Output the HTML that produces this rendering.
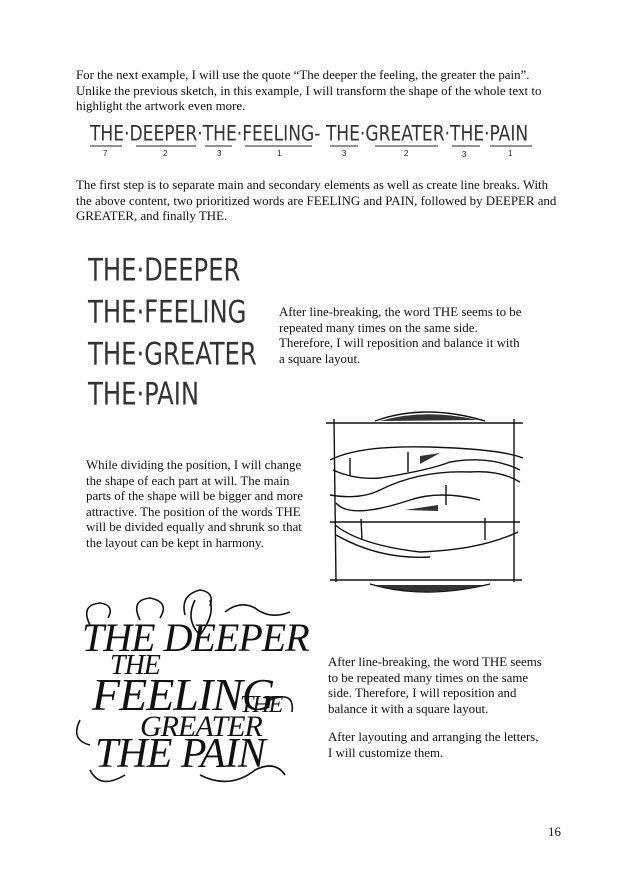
<!DOCTYPE html>
<html><head><meta charset="utf-8"><style>
body{margin:0;width:625px;height:887px;background:#fff;position:relative;overflow:hidden;font-family:"Liberation Serif",serif;color:#111}
.t{position:absolute;font-size:12.9px;line-height:15.5px;white-space:nowrap}
.h{position:absolute;font-family:"DejaVu Sans Condensed","Liberation Sans",sans-serif;color:#333;white-space:nowrap;transform-origin:0 0}
.c{position:absolute;font-family:"Liberation Serif",serif;font-style:italic;color:#111;white-space:nowrap;letter-spacing:-1px}
</style></head><body>
<div class="t" style="left:76px;top:68px">For the next example, I will use the quote “The deeper the feeling, the greater the pain”.<br>Unlike the previous sketch, in this example, I will transform the shape of the whole text to<br>highlight the artwork even more.</div>

<div class="h" style="left:90px;top:122px;font-size:19px;transform:scaleY(1.1)">THE·DEEPER·THE·FEELING- THE·GREATER·THE·PAIN</div>
<svg style="position:absolute;left:0;top:0" width="625" height="887">
<g stroke="#222" stroke-width="1" fill="none">
<line x1="90" y1="146" x2="122" y2="146"/><line x1="136" y1="146" x2="196" y2="146"/>
<line x1="205" y1="146" x2="232" y2="146"/><line x1="245" y1="146" x2="312" y2="146"/>
<line x1="330" y1="146" x2="358" y2="146"/><line x1="375" y1="146" x2="438" y2="146"/>
<line x1="452" y1="146" x2="480" y2="146"/><line x1="490" y1="146" x2="532" y2="146"/>
</g>
<g font-size="8" fill="#222" font-family="Liberation Sans"><text x="103" y="156">7</text><text x="163" y="156">2</text><text x="217" y="156">3</text><text x="277" y="156">1</text><text x="342" y="156">3</text><text x="404" y="156">2</text><text x="462" y="157">3</text><text x="508" y="156">1</text></g>
<g stroke="#111" stroke-width="1.4" fill="none">
<path d="M375 421 Q425 403 485 421"/>
<line x1="326" y1="423" x2="523" y2="423"/>
<line x1="334" y1="419" x2="336" y2="582"/><line x1="514" y1="419" x2="514" y2="582"/>
<path d="M330 460 Q360 445 430 447 T523 458"/>
<path d="M333 470 Q355 480 380 478 Q430 470 450 462 Q490 455 520 470"/>
<path d="M330 495 Q360 500 380 490 Q420 470 470 472 Q500 470 520 482"/>
<path d="M336 503 Q350 520 410 500 Q440 490 480 500"/>
<line x1="330" y1="522" x2="520" y2="522"/>
<path d="M335 525 Q360 545 420 552 Q480 550 518 532"/>
<path d="M336 535 Q380 560 430 557"/>
<line x1="330" y1="580" x2="522" y2="580"/>
<path d="M370 584 Q425 600 490 584"/>
<line x1="350" y1="458" x2="350" y2="476"/><line x1="408" y1="452" x2="408" y2="472"/>
<line x1="446" y1="485" x2="446" y2="505"/><line x1="361" y1="519" x2="362" y2="540"/><line x1="485" y1="518" x2="485" y2="540"/>
</g>
<g fill="#333"><path d="M380 421 Q425 408 478 420Z"/><path d="M375 585 Q425 598 485 585Z"/><path d="M420 456 L440 453 L420 464Z"/><path d="M405 510 L438 505 L438 511Z"/></g>
<g stroke="#111" stroke-width="1.6" fill="none">
<path d="M90 625 Q80 605 100 603 Q115 605 108 618 M140 620 Q130 600 150 598 Q170 602 160 618 M185 615 Q180 595 200 590 Q215 592 210 606 M225 612 Q240 600 255 608 Q270 620 290 612"/>
<path d="M195 600 Q185 620 200 635 Q215 615 210 600"/>
<path d="M90 770 Q100 790 125 775 M200 775 Q230 790 255 770 Q275 760 285 775"/>
<path d="M80 720 Q70 740 90 745 M270 700 Q295 690 292 712"/>
</g>
</svg>
<div class="t" style="left:76px;top:178px">The first step is to separate main and secondary elements as well as create line breaks. With<br>the above content, two prioritized words are FEELING and PAIN, followed by DEEPER and<br>GREATER, and finally THE.</div>

<div class="h" style="left:88px;top:254px;font-size:27px;line-height:30px;transform:scaleY(1.15)">THE·DEEPER</div>
<div class="h" style="left:88px;top:296px;font-size:27px;line-height:30px;transform:scaleY(1.15)">THE·FEELING</div>
<div class="h" style="left:88px;top:338px;font-size:27px;line-height:30px;transform:scaleY(1.15)">THE·GREATER</div>
<div class="h" style="left:88px;top:378px;font-size:27px;line-height:30px;transform:scaleY(1.15)">THE·PAIN</div>

<div class="t" style="left:279px;top:305px">After line-breaking, the word THE seems to be<br>repeated many times on the same side.<br>Therefore, I will reposition and balance it with<br>a square layout.</div>

<div class="t" style="left:86px;top:458px">While dividing the position, I will change<br>the shape of each part at will. The main<br>parts of the shape will be bigger and more<br>attractive. The position of the words THE<br>will be divided equally and shrunk so that<br>the layout can be kept in harmony.</div>

<div class="c" style="left:82px;top:618px;font-size:40px;line-height:40px">THE DEEPER</div>
<div class="c" style="left:110px;top:652px;font-size:28px;line-height:28px">THE</div>
<div class="c" style="left:92px;top:672px;font-size:46px;line-height:46px">FEELING</div>
<div class="c" style="left:240px;top:693px;font-size:24px;line-height:24px">THE</div>
<div class="c" style="left:140px;top:712px;font-size:30px;line-height:30px">GREATER</div>
<div class="c" style="left:95px;top:733px;font-size:42px;line-height:42px">THE PAIN</div>

<div class="t" style="left:328px;top:655px">After line-breaking, the word THE seems<br>to be repeated many times on the same<br>side. Therefore, I will reposition and<br>balance it with a square layout.</div>
<div class="t" style="left:328px;top:730px">After layouting and arranging the letters,<br>I will customize them.</div>

<div class="t" style="left:548px;top:825px">16</div>
</body></html>
